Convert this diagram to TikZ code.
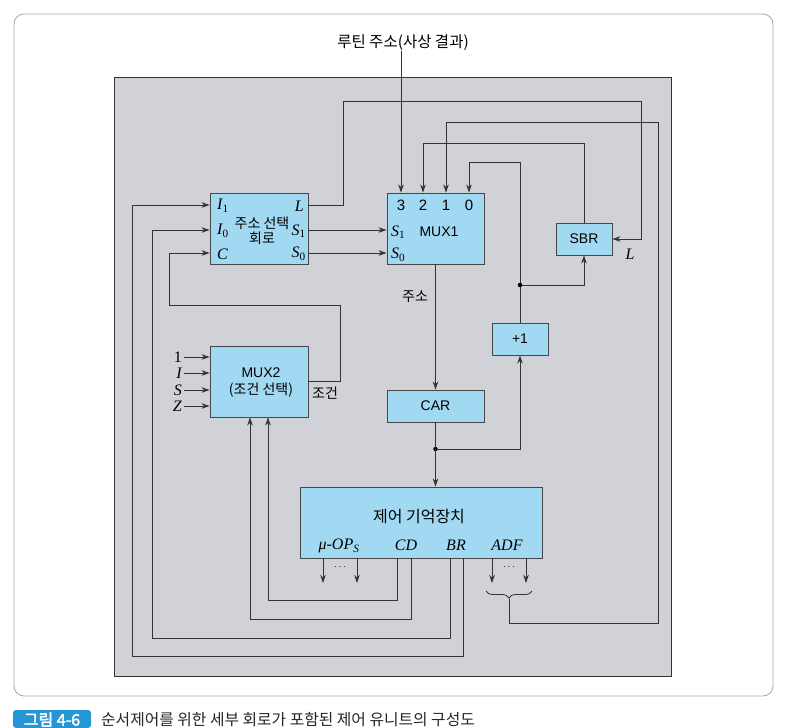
\documentclass[tikz,border=0pt]{standalone}
\usepackage{fontspec}
\newfontfamily\kr{Noto Sans CJK KR}
\newfontfamily\krb{Noto Sans CJK KR}[FakeBold=2.5]
\newfontfamily\lat{Liberation Sans}
\newfontfamily\tms{Liberation Serif}
\newcommand\lowsub[1]{\textsubscript{\upshape #1}}
\usetikzlibrary{arrows.meta,decorations.pathreplacing,shadows}
\definecolor{boxblue}{RGB}{162,217,242}
\definecolor{panelgray}{RGB}{208,210,215}
\definecolor{capblue}{RGB}{36,150,214}
\begin{document}
\begin{tikzpicture}[x=1pt,y=-1pt,
  blk/.style={draw=black!72, line width=0.9pt, fill=boxblue, inner sep=0pt,
    drop shadow={shadow xshift=1.2pt,shadow yshift=-1.2pt,fill=black!50,opacity=0.6}},
  wire/.style={draw=black!80, line width=0.8pt},
  arr/.style={wire,-{Stealth[length=8pt,width=5.5pt]}},
  kt/.style={font=\kr\fontsize{14}{16}\selectfont, inner sep=0pt},
  lt/.style={font=\lat\fontsize{14}{16}\selectfont, inner sep=0pt},
  mt/.style={font=\tms\itshape\fontsize{16}{18}\selectfont, inner sep=0pt},
  dot/.style={circle, fill=black, inner sep=0pt, minimum size=4.5pt}]
\useasboundingbox (0,0) rectangle (785,728);
% frame and panel
\draw[black!35, line width=0.8pt, rounded corners=10pt] (14,14) rectangle (773,696);
\filldraw[fill=panelgray, draw=black!80, line width=0.9pt] (114,77) rectangle (671,676);
% title
\node[kt, font=\kr\fontsize{15.5}{17}\selectfont] (title) at (403,43) {루틴 주소(사상 결과)};
% boxes
\node[blk, minimum width=98pt, minimum height=71pt] (asc) at (259,228.5) {};
\node[blk, minimum width=97pt, minimum height=71pt] (mux1) at (435.5,228.5) {};
\node[blk, minimum width=56pt, minimum height=32pt, font=\lat\fontsize{14}{16}\selectfont] (sbr) at (584,239) {SBR};
\node[blk, minimum width=56pt, minimum height=32pt, font=\lat\fontsize{14}{16}\selectfont] (plus) at (520,339) {+1};
\node[blk, minimum width=98pt, minimum height=71pt] (mux2) at (259,381.5) {};
\node[blk, minimum width=97pt, minimum height=32pt, font=\lat\fontsize{14}{16}\selectfont] (car) at (435.5,406) {CAR};
\node[blk, minimum width=242pt, minimum height=71pt] (cm) at (421,522.5) {};
% address select labels
\node[kt, align=center] (asctxt) at (262,231) {주소 선택\\[-1pt]회로};
\node[mt, anchor=west] (aI1) at (217,206) {I\lowsub{1}};
\node[mt, anchor=west] (aI0) at (217,231) {I\lowsub{0}};
\node[mt, anchor=west] (aC) at (217,254) {C};
\node[mt, anchor=east] (aL) at (304,206) {L};
\node[mt, anchor=east] (aS1) at (306,231) {S\lowsub{1}};
\node[mt, anchor=east] (aS0) at (306,254) {S\lowsub{0}};
% mux1 labels
\node[lt, font=\lat\fontsize{15}{17}\selectfont] (m3) at (401,205) {3};
\node[lt, font=\lat\fontsize{15}{17}\selectfont] (m2) at (423,205) {2};
\node[lt, font=\lat\fontsize{15}{17}\selectfont] (m1) at (446,205) {1};
\node[lt, font=\lat\fontsize{15}{17}\selectfont] (m0) at (469,205) {0};
\node[mt, anchor=west] (mS1) at (391,232) {S\lowsub{1}};
\node[mt, anchor=west] (mS0) at (391,255) {S\lowsub{0}};
\node[lt] (m1txt) at (439,232) {MUX1};
% mux2 labels
\node[lt] (m2a) at (261,373) {MUX2};
\node[kt] (m2b) at (261,390) {(조건 선택)};
\node[mt, anchor=east, font=\tms\fontsize{16}{18}\selectfont] (in1) at (182,357) {1};
\node[mt, anchor=east] (inI) at (182,373) {I};
\node[mt, anchor=east] (inS) at (182,390) {S};
\node[mt, anchor=east] (inZ) at (182,406) {Z};
\node[kt, anchor=west] (cond) at (312,393) {조건};
% other labels
\node[kt] (addr) at (415,297) {주소};
\node[mt] (sbrL) at (630,254) {L};
% control memory labels
\node[kt, font=\kr\fontsize{16}{18}\selectfont] (cmtxt) at (419,517) {제어 기억장치};
\node[mt] (cmop) at (339,546) {μ-OP\textsubscript{S}};
\node[mt] (cmcd) at (406,545) {CD};
\node[mt] (cmbr) at (456,545) {BR};
\node[mt] (cmadf) at (507,545) {ADF};
% wires top
\draw[arr] (title.south -| 401,0) -- (mux1.north -| 401,0);
\draw[arr] (asc.east |- 0,205) -- (343,205) -- (343,101) -- (641,101) |- (sbr.east);
\draw[arr] (asc.east |- 0,230) -- (mux1.west |- 0,230);
\draw[arr] (asc.east |- 0,253) -- (mux1.west |- 0,253);
\draw[arr] (sbr.north) |- (423,143) -- (mux1.north -| 423,0);
\draw[arr] (plus.north) |- (469,162) -- (mux1.north -| 469,0);
\node[dot] (j1) at (520,285) {};
\draw[arr] (j1) -| (sbr.south);
\draw[arr] (mux1.south) -- (car.north);
\node[dot] (j2) at (435.5,449) {};
\draw[arr] (car.south) -- (cm.north -| car.south);
\draw[arr] (j2) -| (plus.south);
% mux2 in/out
\draw[arr] (mux2.east |- 0,381) -- (340,381) -- (340,305) -- (169,305) -- (169,253) -- (asc.west |- 0,253);
\foreach \n in {in1,inI,inS,inZ}{
  \draw[arr] ([xshift=2pt]\n.east) -- (mux2.west |- \n.east);
}
% control memory outputs
\draw[arr] (cm.south -| 397,0) |- (268,600) -- (mux2.south -| 268,0);
\draw[arr] (cm.south -| 411,0) |- (250,619) -- (mux2.south -| 250,0);
\draw[arr] (cm.south -| 450,0) |- (152,638) -- (152,230) -- (asc.west |- 0,230);
\draw[arr] (cm.south -| 463,0) |- (132,656) -- (132,205) -- (asc.west |- 0,205);
\foreach \x in {323,357,492,526}{
  \draw[arr] (cm.south -| \x,0) -- (\x,583);
}
\node[lt, font=\lat\fontsize{10}{11}\selectfont] (dots1) at (340,567) {$\cdots$};
\node[lt, font=\lat\fontsize{10}{11}\selectfont] (dots2) at (509,567) {$\cdots$};
\draw[wire, decorate, decoration={brace, mirror, amplitude=7pt}] (486,591) -- (532,591);
\coordinate (brtip) at (509,599);
\draw[arr] (brtip) -- (509,623) -| (658,122) -| (mux1.north -| 446,0);
% caption
\fill[capblue, rounded corners=3pt] (13,710) rectangle (91,728);
\node[font=\krb\fontsize{16}{18}\selectfont, text=white, inner sep=0pt] (capnum) at (52,719.5) {그림 4-6};
\node[font=\kr\fontsize{15.8}{18}\selectfont, text=black!85, anchor=west, inner sep=0pt] (captxt) at (101,719.5) {순서제어를 위한 세부 회로가 포함된 제어 유니트의 구성도};
\end{tikzpicture}
\end{document}
